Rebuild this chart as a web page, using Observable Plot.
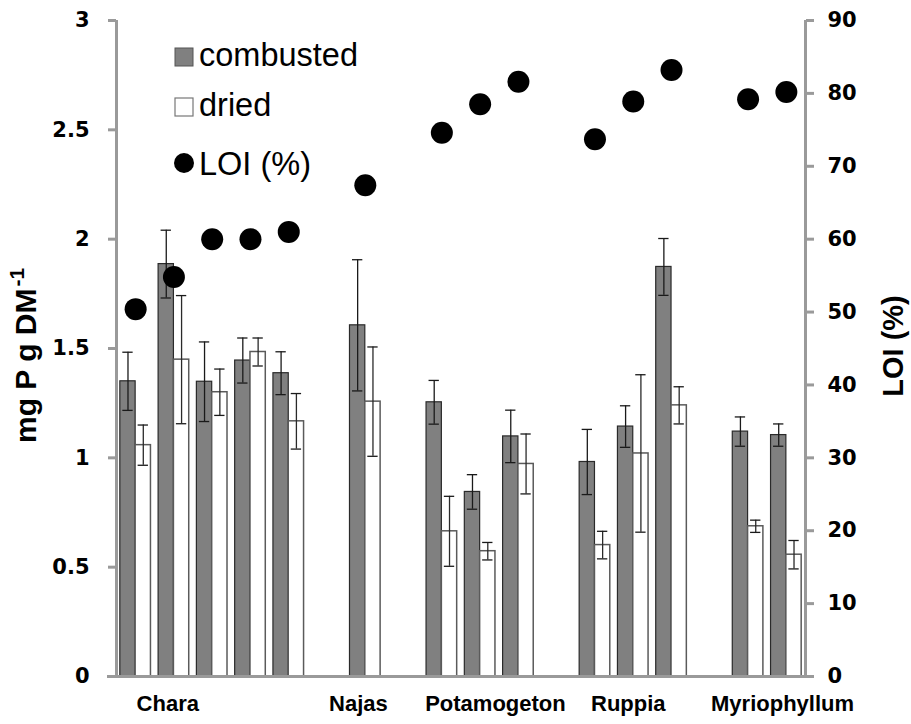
<!DOCTYPE html>
<html>
<head>
<meta charset="utf-8">
<script src="https://cdn.jsdelivr.net/npm/d3@7"></script>
<script src="https://cdn.jsdelivr.net/npm/@observablehq/plot@0.6"></script>
<style>
  body { margin: 0; background: #fff; }
  #chart { width: 911px; height: 724px; }
</style>
</head>
<body>
<div id="chart"></div>
<script>
// ---- data ----
const genus = ["Chara","Chara","Chara","Chara","Chara","Najas","Potamogeton","Potamogeton","Potamogeton","Ruppia","Ruppia","Ruppia","Myriophyllum","Myriophyllum"];
const slots = [0, 1, 2, 3, 4, 6, 8, 9, 10, 12, 13, 14, 16, 17];
const combusted    = [1.350, 1.886, 1.348, 1.445, 1.387, 1.606, 1.254, 0.844, 1.098, 0.981, 1.143, 1.873, 1.120, 1.104];
const combustedErr = [0.133, 0.155, 0.182, 0.103, 0.098, 0.300, 0.100, 0.079, 0.120, 0.149, 0.095, 0.130, 0.067, 0.051];
const dried        = [1.058, 1.449, 1.300, 1.484, 1.167, 1.257, 0.664, 0.573, 0.972, 0.601, 1.020, 1.240, 0.687, 0.557];
const driedErr     = [0.092, 0.293, 0.106, 0.064, 0.127, 0.250, 0.160, 0.040, 0.137, 0.063, 0.360, 0.085, 0.028, 0.065];
const loi          = [50.4, 54.8, 60.0, 60.0, 61.0, 67.4, 74.6, 78.5, 81.6, 73.7, 78.9, 83.2, 79.2, 80.2];

const genusLabels   = ["Chara", "Najas", "Potamogeton", "Ruppia", "Myriophyllum"];
const genusLabelPos = [0.84, 5.82, 9.4, 12.87, 16.9];

const leftTicks  = [0, 0.5, 1, 1.5, 2, 2.5, 3];
const rightTicks = [0, 10, 20, 30, 40, 50, 60, 70, 80, 90];
const seriesNames = ["combusted", "dried", "LOI (%)"];
const yLabel = "mg P g DM";
const yLabelSup = "-1";
const y2Label = "LOI (%)";

// ---- build ----
const nSlots = 18;
const xDomain = [-0.5, nSlots - 0.5];
const yMax = 3, y2Max = 90;
const toY = v => v * yMax / y2Max;

const rows = slots.map((s, i) => ({
  slot: s, genus: genus[i],
  comb: combusted[i], combErr: combustedErr[i],
  dry: dried[i], dryErr: driedErr[i],
  loi: loi[i]
}));
const caps = rows.flatMap(d => [
  {x: d.slot - 0.2, y: d.comb + d.combErr}, {x: d.slot - 0.2, y: d.comb - d.combErr},
  {x: d.slot + 0.2, y: d.dry + d.dryErr},   {x: d.slot + 0.2, y: d.dry - d.dryErr}
]);
const labels = genusLabels.map((g, i) => ({g, x: genusLabelPos[i]}));

const axisGray = "#9a9a9a";
const tickFont = {fontSize: 21, fontWeight: "bold", fontFamily: "DejaVu Sans", fill: "#000"};

const chart = Plot.plot({
  width: 911,
  height: 724,
  marginLeft: 116,
  marginRight: 106,
  marginTop: 20,
  marginBottom: 48,
  x: {type: "linear", domain: xDomain, axis: null},
  y: {domain: [0, yMax], axis: null},
  marks: [
    // bars
    Plot.rectY(rows, {x1: d => d.slot - 0.4, x2: d => d.slot, y: "comb", fill: "#808080", stroke: "#2a2a2a", strokeWidth: 1.2}),
    Plot.rectY(rows, {x1: d => d.slot, x2: d => d.slot + 0.4, y: "dry", fill: "#ffffff", stroke: "#5a5a5a", strokeWidth: 1.5}),
    // error bars
    Plot.ruleX(rows, {x: d => d.slot - 0.2, y1: d => d.comb - d.combErr, y2: d => d.comb + d.combErr, stroke: "#1a1a1a", strokeWidth: 1.3}),
    Plot.ruleX(rows, {x: d => d.slot + 0.2, y1: d => d.dry - d.dryErr, y2: d => d.dry + d.dryErr, stroke: "#2a2a2a", strokeWidth: 1.3}),
    Plot.ruleY(caps, {y: "y", x1: d => d.x - 0.135, x2: d => d.x + 0.135, stroke: "#1a1a1a", strokeWidth: 1.3}),
    // axis lines
    Plot.ruleX([xDomain[0], xDomain[1]], {stroke: axisGray, strokeWidth: 3}),
    Plot.ruleY([0], {stroke: axisGray, strokeWidth: 3, insetLeft: -9, insetRight: -9}),
    // axes
    Plot.axisY(leftTicks, {anchor: "left", tickSize: 8, tickPadding: 19, stroke: axisGray, strokeWidth: 3,
      tickFormat: d => String(d), label: null, ...tickFont}),
    Plot.axisY(rightTicks.map(toY), {anchor: "right", tickSize: 8, tickPadding: 14, stroke: axisGray, strokeWidth: 3,
      tickFormat: d => String(Math.round(d * y2Max / yMax)), label: null, ...tickFont}),
    // LOI dots
    Plot.dot(rows, {x: "slot", y: d => toY(d.loi), r: 11, fill: "#000", stroke: null}),
    // genus labels
    Plot.text(labels, {x: "x", frameAnchor: "bottom", dy: 34, text: "g", fontSize: 22, fontWeight: "bold",
      fontFamily: "Liberation Sans", fill: "#000"})
  ]
});

const svg = d3.select(chart);
// left axis title with superscript
const t1 = svg.append("text")
  .attr("transform", "translate(36,443) rotate(-90)")
  .attr("text-anchor", "start")
  .attr("font-family", "Liberation Sans")
  .attr("font-weight", "bold")
  .attr("font-size", 30)
  .attr("fill", "#000");
t1.append("tspan").text(yLabel);
t1.append("tspan").attr("font-size", 21).attr("dx", 2).attr("dy", -12).text(yLabelSup);

// right axis title
svg.append("text")
  .attr("transform", "translate(903,346) rotate(-90)")
  .attr("text-anchor", "middle")
  .attr("font-family", "Liberation Sans")
  .attr("font-weight", "bold")
  .attr("font-size", 29)
  .attr("fill", "#000")
  .text(y2Label);

// legend
const lg = svg.append("g").attr("font-family", "Liberation Sans").attr("font-size", 32.5)
  .attr("fill", "#000").attr("text-anchor", "start");
lg.append("rect").attr("x", 175).attr("y", 48).attr("width", 18).attr("height", 18)
  .attr("fill", "#808080").attr("stroke", "#555").attr("stroke-width", 1);
lg.append("text").attr("x", 199).attr("y", 66).text(seriesNames[0]);
lg.append("rect").attr("x", 175).attr("y", 98).attr("width", 18).attr("height", 18)
  .attr("fill", "#fff").attr("stroke", "#777").attr("stroke-width", 1.2);
lg.append("text").attr("x", 199).attr("y", 116).text(seriesNames[1]);
lg.append("circle").attr("cx", 184).attr("cy", 163).attr("r", 10).attr("fill", "#000");
lg.append("text").attr("x", 199).attr("y", 175).text(seriesNames[2]);

document.getElementById("chart").appendChild(chart);
</script>
</body>
</html>
